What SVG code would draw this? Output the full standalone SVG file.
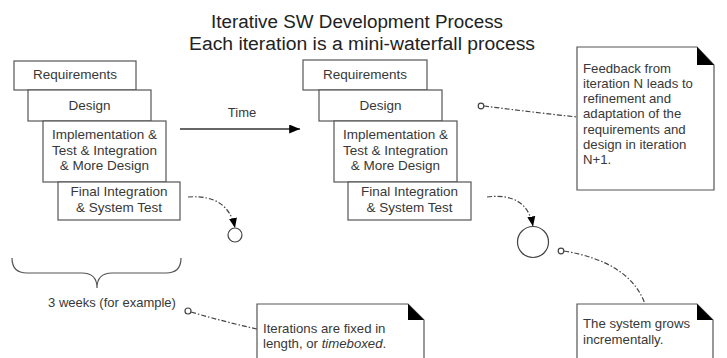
<svg xmlns="http://www.w3.org/2000/svg" width="727" height="358" viewBox="0 0 727 358">
<style>
text{font-family:"Liberation Sans",Arial,sans-serif;fill:#383838}
.title{font-size:18px;text-anchor:middle;fill:#222}
.box{fill:#fff;stroke:#555;stroke-width:1.2}
.bt{font-size:13.5px;text-anchor:middle}
.nt{font-size:13.2px}
.conn{fill:none;stroke:#444;stroke-width:1.2;stroke-dasharray:5 2 1.5 2}
.dot{fill:#fff;stroke:#444;stroke-width:1.2}
.fold{fill:#000}
</style>
<defs>
<marker id="ah" viewBox="0 0 10 10" refX="10" refY="5" markerWidth="10" markerHeight="10" markerUnits="userSpaceOnUse" orient="auto"><path d="M0,1 L10,5 L0,9 Z" fill="#000"/></marker>
<marker id="ah2" viewBox="0 0 12 10" refX="12" refY="5" markerWidth="12" markerHeight="9" markerUnits="userSpaceOnUse" orient="auto"><path d="M0,0 L12,5 L0,10 Z" fill="#000"/></marker>
</defs>
<g id="title">
<text class="title" x="357" y="28" textLength="292" lengthAdjust="spacingAndGlyphs">Iterative SW Development Process</text>
<text class="title" x="362" y="50" textLength="346" lengthAdjust="spacingAndGlyphs">Each iteration is a mini-waterfall process</text>
</g>
<g id="iter1">
<g id="req1"><rect class="box" x="14" y="61" width="122" height="29"/><text class="bt" x="75" y="79">Requirements</text></g>
<g id="des1"><rect class="box" x="28" y="90" width="123" height="31"/><text class="bt" x="89.5" y="110">Design</text></g>
<g id="imp1"><rect class="box" x="43" y="121" width="123" height="61"/><text class="bt" x="104.5" y="139">Implementation &amp;</text><text class="bt" x="104.5" y="155">Test &amp; Integration</text><text class="bt" x="104.5" y="170">&amp; More Design</text></g>
<g id="fin1"><rect class="box" x="58" y="182" width="122" height="38"/><text class="bt" x="119" y="196">Final Integration</text><text class="bt" x="119" y="212">&amp; System Test</text></g>
</g>
<g id="iter2">
<g id="req2"><rect class="box" x="303" y="60" width="124" height="30"/><text class="bt" x="365" y="79">Requirements</text></g>
<g id="des2"><rect class="box" x="319" y="90" width="123" height="31"/><text class="bt" x="380.5" y="110">Design</text></g>
<g id="imp2"><rect class="box" x="334" y="121" width="123" height="61"/><text class="bt" x="395.5" y="139">Implementation &amp;</text><text class="bt" x="395.5" y="155">Test &amp; Integration</text><text class="bt" x="395.5" y="170">&amp; More Design</text></g>
<g id="fin2"><rect class="box" x="348" y="182" width="123" height="38"/><text class="bt" x="409.5" y="196">Final Integration</text><text class="bt" x="409.5" y="212">&amp; System Test</text></g>
</g>
<g id="inc1"><circle class="dot" cx="235" cy="235" r="7"/></g>
<g id="inc2"><circle class="dot" cx="533" cy="242" r="15.5"/></g>
<g id="brace">
<path d="M12,258 Q12,273 27,273 L82,273 Q97,273 97,288 Q97,273 112,273 L166,273 Q181,273 181,258" fill="none" stroke="#555" stroke-width="1.2"/>
<text x="112" y="307" font-size="13" text-anchor="middle">3 weeks (for example)</text>
</g>
<g id="time">
<text x="242" y="117" font-size="13" text-anchor="middle">Time</text>
</g>
<g id="note-feedback">
<path class="box" d="M577,47 L697,47 L714,65 L714,190 L577,190 Z"/>
<path class="fold" d="M697,47 L714,65 L697,65 Z"/>
<text class="nt" x="583" y="73">Feedback from</text>
<text class="nt" x="583" y="88">iteration N leads to</text>
<text class="nt" x="583" y="103">refinement and</text>
<text class="nt" x="583" y="118">adaptation of the</text>
<text class="nt" x="583" y="134">requirements and</text>
<text class="nt" x="583" y="149">design in iteration</text>
<text class="nt" x="583" y="164">N+1.</text>
</g>
<g id="note-timebox">
<path class="box" d="M257,304 L408,304 L424,320 L424,362 L257,362 Z"/>
<path class="fold" d="M408,304 L424,320 L408,320 Z"/>
<text class="nt" x="263" y="333">Iterations are fixed in</text>
<text class="nt" x="263" y="348">length, or <tspan font-style="italic">timeboxed</tspan>.</text>
</g>
<g id="note-grows">
<path class="box" d="M577,304 L697,304 L713,320 L713,362 L577,362 Z"/>
<path class="fold" d="M697,304 L713,320 L697,320 Z"/>
<text class="nt" x="583" y="328">The system grows</text>
<text class="nt" x="583" y="344">incrementally.</text>
</g>
<g id="connectors">
<line x1="180" y1="129" x2="300" y2="129" stroke="#333" stroke-width="1.3" marker-end="url(#ah2)"/>
<path class="conn" d="M188,197 Q228,194 235,228" marker-end="url(#ah)"/>
<path class="conn" d="M487,197 Q527,192 533,226.5" marker-end="url(#ah)"/>
<path class="conn" d="M484,106 Q530,112 577,117"/>
<circle class="dot" cx="481" cy="106" r="2.8"/>
<path class="conn" d="M191,312 Q225,322 257,329"/>
<circle class="dot" cx="188" cy="311" r="3"/>
<path class="conn" d="M564,251 Q630,262 645,304"/>
<circle class="dot" cx="561" cy="251" r="2.8"/>
</g>
</svg>
